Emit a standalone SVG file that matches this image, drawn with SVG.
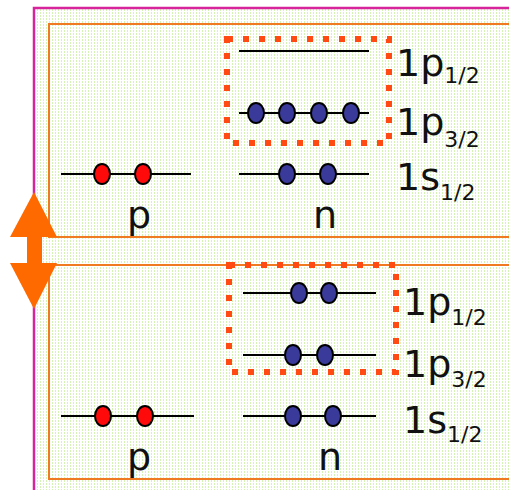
<svg xmlns="http://www.w3.org/2000/svg" width="509" height="490" viewBox="0 0 509 490">
<defs>
<pattern id="dots" width="3" height="3" patternUnits="userSpaceOnUse">
<rect width="3" height="3" fill="#ffffff"/>
<rect x="1" y="0" width="1" height="2" fill="#d4f3b4"/>
</pattern>
<style>
.panel{fill:none;stroke:#f07a22;stroke-width:2}
.dotbox{fill:none;stroke:#ff4a14;stroke-width:6;stroke-dasharray:6 10}
.lvl{stroke:#000;stroke-width:2}
.n{fill:#3a3a9a;stroke:#000;stroke-width:2}
.p{fill:#ff0a0a;stroke:#000;stroke-width:2}
.lab{font-family:"DejaVu Sans",sans-serif;font-size:38px;fill:#111}
.sub{font-size:22px}
.pn{font-family:"DejaVu Sans",sans-serif;font-size:38px;fill:#111;text-anchor:middle}
</style>
</defs>
<rect x="34" y="8" width="475" height="482" fill="url(#dots)"/>
<path d="M34 490 V8 H509" fill="none" stroke="#d8249c" stroke-width="2.5"/>
<g id="panel-top">
<path class="panel" d="M509 24 H49 V237 H509"/>
<rect class="dotbox" x="227" y="39" width="162" height="104"/>
<line class="lvl" x1="239" y1="51" x2="369" y2="51"/>
<line class="lvl" x1="239" y1="113" x2="369" y2="113"/>
<ellipse class="n" cx="256" cy="113" rx="8" ry="10"/>
<ellipse class="n" cx="287" cy="113" rx="8" ry="10"/>
<ellipse class="n" cx="319" cy="113" rx="8" ry="10"/>
<ellipse class="n" cx="351" cy="113" rx="8" ry="10"/>
<line class="lvl" x1="61" y1="174" x2="191" y2="174"/>
<ellipse class="p" cx="102" cy="174" rx="8" ry="10"/>
<ellipse class="p" cx="143" cy="174" rx="8" ry="10"/>
<line class="lvl" x1="239" y1="174" x2="369" y2="174"/>
<ellipse class="n" cx="287" cy="174" rx="8" ry="10"/>
<ellipse class="n" cx="328" cy="174" rx="8" ry="10"/>
<text class="pn" x="139" y="228">p</text>
<text class="pn" x="325" y="228">n</text>
<text class="lab" x="396" y="76">1p<tspan class="sub" dy="7">1/2</tspan></text>
<text class="lab" x="396" y="135">1p<tspan class="sub" dy="12">3/2</tspan></text>
<text class="lab" x="396" y="190">1s<tspan class="sub" dy="10">1/2</tspan></text>
</g>
<g id="panel-bottom">
<path class="panel" d="M509 265 H49 V479 H509"/>
<rect class="dotbox" x="229" y="265" width="167" height="107"/>
<line class="lvl" x1="243" y1="293" x2="376" y2="293"/>
<ellipse class="n" cx="299" cy="293" rx="8" ry="10"/>
<ellipse class="n" cx="329" cy="293" rx="8" ry="10"/>
<line class="lvl" x1="243" y1="355" x2="376" y2="355"/>
<ellipse class="n" cx="293" cy="355" rx="8" ry="10"/>
<ellipse class="n" cx="325" cy="355" rx="8" ry="10"/>
<line class="lvl" x1="61" y1="416" x2="194" y2="416"/>
<ellipse class="p" cx="103" cy="416" rx="8" ry="10"/>
<ellipse class="p" cx="145" cy="416" rx="8" ry="10"/>
<line class="lvl" x1="243" y1="416" x2="376" y2="416"/>
<ellipse class="n" cx="293" cy="416" rx="8" ry="10"/>
<ellipse class="n" cx="333" cy="416" rx="8" ry="10"/>
<text class="pn" x="139" y="470">p</text>
<text class="pn" x="330" y="470">n</text>
<text class="lab" x="403" y="315">1p<tspan class="sub" dy="10">1/2</tspan></text>
<text class="lab" x="403" y="377">1p<tspan class="sub" dy="10">3/2</tspan></text>
<text class="lab" x="403" y="433">1s<tspan class="sub" dy="9">1/2</tspan></text>
</g>
<g id="connectors">
<polygon points="34,192 57,237 42,237 42,263 57,263 34,309 10,263 27,263 27,237 10,237" fill="#ff6a00"/>
</g>
</svg>
